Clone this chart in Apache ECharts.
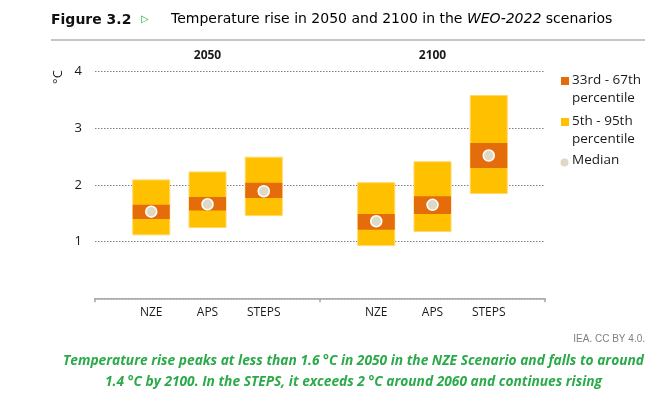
<!DOCTYPE html>
<html>
<head>
<meta charset="utf-8">
<script src="https://cdn.jsdelivr.net/npm/echarts@6/dist/echarts.min.js"></script>
<style>
html,body{margin:0;padding:0;background:#fff;}
#c{width:663px;height:395px;}
</style>
</head>
<body>
<div id="c"></div>
<script>
// Category slots: blank separators around the two groups
var categories = ['', 'NZE', 'APS', 'STEPS', '', 'NZE', 'APS', 'STEPS', ''];
var groupLabels = ['', '', '2050', '', '', '', '2100', '', ''];
var barIndex = [1, 2, 3, 5, 6, 7];
var p5  = [1.12, 1.25, 1.46, 0.93, 1.18, 1.85];
var p95 = [2.09, 2.23, 2.49, 2.04, 2.41, 3.58];
var p33 = [1.40, 1.55, 1.77, 1.21, 1.49, 2.30];
var p67 = [1.65, 1.79, 2.04, 1.49, 1.80, 2.74];
var median = [1.53, 1.66, 1.89, 1.36, 1.65, 2.52];
var yTicks = [0, 1, 2, 3, 4];

var YELLOW = '#FFC000', ORANGE = '#E46C0A', MED = '#DDD9C4', GREEN = '#2BAA4A';

function rangeData(lo, hi) {
  return barIndex.map(function (x, i) { return [x, lo[i], hi[i]]; });
}
function boxRender(fill, stroke) {
  return function (params, api) {
    var a = api.coord([api.value(0), api.value(1)]);
    var b = api.coord([api.value(0), api.value(2)]);
    var w = 37;
    return {
      type: 'rect',
      shape: { x: a[0] - w / 2, y: b[1], width: w, height: a[1] - b[1] },
      style: { fill: fill, stroke: stroke, lineWidth: stroke ? 1 : 0 }
    };
  };
}

var chart = echarts.init(document.getElementById('c'), null, { renderer: 'canvas' });
chart.setOption({
  animation: false,
  backgroundColor: '#ffffff',
  grid: { left: 95, right: 118, top: 71.7, bottom: 96.7, containLabel: false },
  xAxis: [{
    type: 'category',
    data: categories,
    boundaryGap: false,
    axisLine: { show: true, lineStyle: { color: '#A6A6A6', width: 1.5 } },
    axisTick: { show: true, length: 4, interval: function (i) { return i % 4 === 0; }, lineStyle: { color: '#A6A6A6', width: 1.5 } },
    axisLabel: { interval: 0, margin: 8, color: '#1a1a1a', fontSize: 12, fontFamily: 'Open Sans' },
    splitLine: { show: false }
  }, {
    type: 'category',
    position: 'top',
    data: groupLabels,
    boundaryGap: false,
    axisLine: { show: false },
    axisTick: { show: false },
    axisLabel: { interval: 0, margin: 10, color: '#1a1a1a', fontSize: 12, fontWeight: 'bold', fontFamily: 'Open Sans' },
    splitLine: { show: false }
  }],
  yAxis: {
    type: 'value',
    min: yTicks[0], max: yTicks[yTicks.length - 1], interval: 1,
    axisLine: { show: false },
    axisTick: { show: false },
    axisLabel: { margin: 13, color: '#1a1a1a', fontSize: 13, fontFamily: 'Open Sans',
      formatter: function (v) { return v === 0 ? '' : String(v); } },
    splitLine: { show: true, lineStyle: { color: '#7f7f7f', type: [1.5, 1.5], width: 1 } }
  },
  series: [
    { type: 'custom', name: '5th - 95th percentile', data: rangeData(p5, p95),
      renderItem: boxRender(YELLOW, '#FFD766'), encode: { x: 0, y: [1, 2] }, z: 2 },
    { type: 'custom', name: '33rd - 67th percentile', data: rangeData(p33, p67),
      renderItem: boxRender(ORANGE, null), encode: { x: 0, y: [1, 2] }, z: 3 },
    { type: 'scatter', name: 'Median', data: barIndex.map(function (x, i) { return [x, median[i]]; }),
      symbol: 'circle', symbolSize: 11, z: 4,
      itemStyle: { color: MED, borderColor: '#ffffff', borderWidth: 1.5, opacity: 1 } }
  ],
  graphic: [
    { type: 'text', left: 51, top: 13, style: { text: 'Figure 3.2', fontSize: 14, fontWeight: 'bold', fontFamily: 'DejaVu Sans', fill: '#111' } },
    { type: 'text', left: 141, top: 14, style: { text: '▷', fontSize: 10, fontWeight: 'bold', fontFamily: 'DejaVu Sans', fill: GREEN } },
    { type: 'text', left: 171, top: 12, style: {
        text: '{n|Temperature rise in 2050 and 2100 in the }{i|WEO-2022}{n| scenarios}',
        rich: {
          n: { fontSize: 14, fontFamily: 'DejaVu Sans', color: '#111' },
          i: { fontSize: 14, fontFamily: 'DejaVu Sans', fontStyle: 'italic', color: '#111' }
        } } },
    { type: 'line', shape: { x1: 51, y1: 40, x2: 645, y2: 40 }, style: { stroke: '#8c8c8c', lineWidth: 1.2 } },
    { type: 'text', x: 58, y: 77, rotation: Math.PI / 2,
      style: { text: '°C', fontSize: 13, fontFamily: 'Open Sans', fill: '#1a1a1a', textAlign: 'center', textVerticalAlign: 'middle' } },
    // legend
    { type: 'rect', shape: { x: 561, y: 77, width: 8, height: 8 }, style: { fill: ORANGE } },
    { type: 'text', left: 572, top: 71, style: { text: '33rd - 67th\npercentile', fontSize: 13.5, lineHeight: 18, fontFamily: 'Open Sans', fill: '#1a1a1a' } },
    { type: 'rect', shape: { x: 561, y: 118, width: 8, height: 8 }, style: { fill: YELLOW } },
    { type: 'text', left: 572, top: 112, style: { text: '5th - 95th\npercentile', fontSize: 13.5, lineHeight: 18, fontFamily: 'Open Sans', fill: '#1a1a1a' } },
    { type: 'circle', shape: { cx: 564.5, cy: 162.5, r: 4 }, style: { fill: MED } },
    { type: 'text', left: 572, top: 153, style: { text: 'Median', fontSize: 13.5, fontFamily: 'Open Sans', fill: '#1a1a1a' } },
    // source
    { type: 'text', right: 18, top: 334, style: { text: 'IEA. CC BY 4.0.', fontSize: 10, fontFamily: 'Liberation Sans', fill: '#808080' } },
    // caption
    { type: 'text', x: 353.5, y: 351, style: {
        text: 'Temperature rise peaks at less than 1.6 °C in 2050 in the NZE Scenario and falls to around\n1.4 °C by 2100. In the STEPS, it exceeds 2 °C around 2060 and continues rising',
        textAlign: 'center', textVerticalAlign: 'top', fontSize: 13.75, lineHeight: 21, fontWeight: 'bold', fontStyle: 'italic', fontFamily: 'Open Sans', fill: GREEN } }
  ]
});
</script>
</body>
</html>
